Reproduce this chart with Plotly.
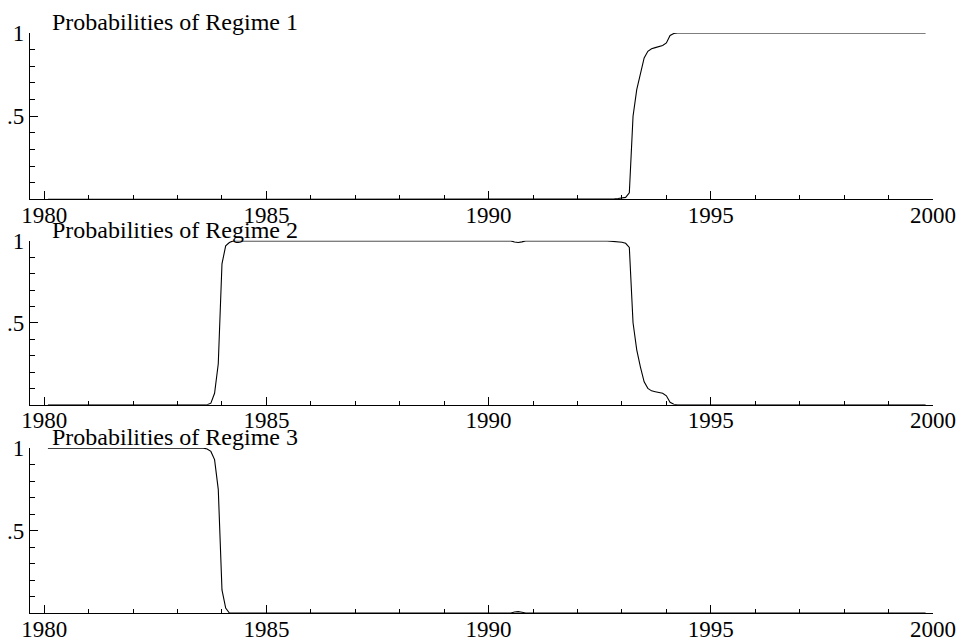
import plotly.graph_objects as go

# ---- data (monthly smoothed regime probabilities, breakpoints) ----
r1_months = ["1980-01", "1992-08", "1992-09", "1992-10", "1992-11", "1992-12", "1993-01",
             "1993-02", "1993-03", "1993-04", "1993-05", "1993-06", "1993-07", "1993-08",
             "1993-09", "1993-10", "1993-11", "1993-12", "1994-01", "1994-02", "1994-03",
             "1999-10"]
r1_values = [0.0, 0.0, 0.002, 0.003, 0.005, 0.008, 0.012,
             0.04, 0.50, 0.66, 0.76, 0.85, 0.89, 0.905,
             0.912, 0.918, 0.925, 0.94, 0.985, 0.997, 1.0,
             1.0]

r2_months = ["1980-01", "1983-08", "1983-09", "1983-10", "1983-11", "1983-12", "1984-01",
             "1984-02", "1984-03", "1990-06", "1990-07", "1990-08", "1990-09", "1990-10",
             "1992-08", "1992-09", "1992-10", "1992-11", "1992-12", "1993-01", "1993-02",
             "1993-03", "1993-04", "1993-05", "1993-06", "1993-07", "1993-08", "1993-09",
             "1993-10", "1993-11", "1993-12", "1994-01", "1994-02", "1994-03", "1999-10"]
r2_values = [0.0, 0.0, 0.01, 0.07, 0.25, 0.86, 0.97,
             0.99, 1.0, 1.0, 0.993, 0.99, 0.994, 1.0,
             1.0, 0.998, 0.996, 0.995, 0.992, 0.985, 0.96,
             0.50, 0.335, 0.23, 0.14, 0.10, 0.085, 0.08,
             0.075, 0.07, 0.055, 0.015, 0.003, 0.0, 0.0]

r3_months = ["1980-01", "1983-07", "1983-08", "1983-09", "1983-10", "1983-11", "1983-12",
             "1984-01", "1984-02", "1990-06", "1990-07", "1990-08", "1990-09", "1990-10",
             "1999-10"]
r3_values = [1.0, 1.0, 0.995, 0.98, 0.93, 0.75, 0.14,
             0.03, 0.0, 0.0, 0.006, 0.008, 0.005, 0.0,
             0.0]

titles = ["Probabilities of Regime 1", "Probabilities of Regime 2", "Probabilities of Regime 3"]
x_tickvals = [1980, 1985, 1990, 1995, 2000]
x_ticktext = ["1980", "1985", "1990", "1995", "2000"]
y_tickvals = [0.5, 1.0]
y_ticktext = [".5", "1"]


def to_year(m):
    y, mo = m.split("-")
    return int(y) + int(mo) / 12.0


series = [(r1_months, r1_values), (r2_months, r2_values), (r3_months, r3_values)]

FONT = "Liberation Serif, Times New Roman, serif"
fig = go.Figure()

domains = [[0.7131, 1.0], [0.3590, 0.6416], [0.0, 0.2843]]

for i, (months, vals) in enumerate(series):
    n = "" if i == 0 else str(i + 1)
    fig.add_trace(go.Scatter(
        x=[to_year(m) for m in months], y=vals, mode="lines",
        line=dict(color="black", width=1.1),
        xaxis="x" + n, yaxis="y" + n, showlegend=False, hoverinfo="skip",
    ))
    xa = dict(
        domain=[0, 1], anchor="y" + n, range=[1979.68, 2000.0],
        tickmode="array", tickvals=x_tickvals, ticktext=x_ticktext,
        ticks="inside", ticklen=8, tickwidth=1, tickcolor="black",
        minor=dict(ticks="inside", ticklen=4, tickwidth=1, tickcolor="black",
                   tickmode="linear", tick0=1980, dtick=1),
        showline=True, linecolor="black", linewidth=1.2,
        showgrid=False, zeroline=False, automargin=False,
        tickfont=dict(family=FONT, size=23, color="black"),
        ticklabelstandoff=-5,
    )
    ya = dict(
        domain=domains[i], anchor="x" + n, range=[0, 1],
        tickmode="array", tickvals=y_tickvals, ticktext=y_ticktext,
        ticks="inside", ticklen=8, tickwidth=1, tickcolor="black",
        minor=dict(ticks="inside", ticklen=5, tickwidth=1, tickcolor="black",
                   tickmode="linear", tick0=0, dtick=0.1),
        showline=True, linecolor="black", linewidth=1.2,
        showgrid=False, zeroline=False, automargin=False,
        tickfont=dict(family=FONT, size=23, color="black"),
        ticklabelstandoff=0,
    )
    fig.layout["xaxis" + n] = xa
    fig.layout["yaxis" + n] = ya
    fig.add_annotation(
        text=titles[i], xref="paper", yref="paper",
        x=20 / 903.3, y=domains[i][1], xanchor="left", yanchor="bottom",
        yshift=-4, showarrow=False,
        font=dict(family=FONT, size=24, color="black"),
    )

fig.update_layout(
    width=966, height=641,
    margin=dict(l=30, r=33, t=33, b=28, autoexpand=False),
    paper_bgcolor="white", plot_bgcolor="white",
    showlegend=False,
)

fig.write_html("out.html", config={"displayModeBar": False},
               post_script="document.body.style.margin='0';")
